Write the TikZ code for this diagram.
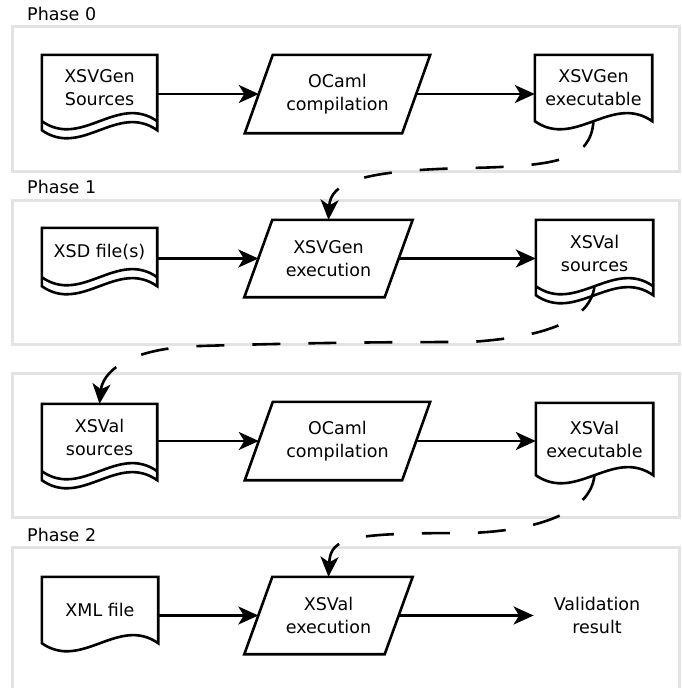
\documentclass[tikz,border=0pt]{standalone}
\usepackage{fontspec}
\setmainfont{DejaVu Sans}
\usetikzlibrary{arrows.meta,calc}
\tikzset{
  frame/.style={draw=black!11, line width=3pt},
  outline/.style={draw=black, line width=2.6pt},
  arr/.style={line width=2.6pt, -{Stealth[length=20pt,width=18pt,inset=5.5pt]}},
  dasharr/.style={arr, dash pattern=on 28pt off 28pt},
  doc/.style={rectangle, inner sep=0pt, align=center, font=\fontsize{17.5}{23}\selectfont},
  para/.style={doc},
  phase/.style={anchor=west, inner sep=0pt, font=\fontsize{17.5}{21}\selectfont},
}
\newcommand\docone[1]{\draw[outline] (#1.north west) -- (#1.south west) .. controls +(40,28) and +(-40,-28) .. (#1.south east) -- (#1.north east) -- cycle;}
\newcommand\doctwo[1]{\draw[outline] (#1.north west) -- ([yshift=-9pt]#1.south west) .. controls +(40,28) and +(-40,-28) .. ([yshift=-9pt]#1.south east) -- (#1.north east) -- cycle;
  \draw[outline] (#1.south west) .. controls +(40,28) and +(-40,-28) .. (#1.south east);}
\newcommand\parashape[1]{\draw[outline] ([xshift=-14pt]#1.south west) -- ([xshift=14pt]#1.north west) -- ([xshift=14pt]#1.north east) -- ([xshift=-14pt]#1.south east) -- cycle;}
\begin{document}
\begin{tikzpicture}[x=1pt,y=-1pt]
\useasboundingbox (0,0) rectangle (682,688);
\clip (0,0) rectangle (682,688);
% frames
\draw[frame] (12.5,26) rectangle (679,171);
\draw[frame] (12.5,200) rectangle (679,344);
\draw[frame] (12.5,373) rectangle (679,517);
\draw[frame] (12.5,547) rectangle (679,700);
\node[phase] (ph0) at (27,14) {Phase 0};
\node[phase] (ph1) at (27,187) {Phase 1};
\node[phase] (ph2) at (27,535) {Phase 2};
% phase 0
\node[doc, minimum width=115pt, minimum height=66pt] (src0) at (99.5,88) {XSVGen\\Sources};
\node[para, minimum width=157pt, minimum height=78pt] (para0) at (337.5,94) {OCaml\\compilation};
\node[doc, minimum width=117pt, minimum height=66pt] (exe0) at (593.5,88) {XSVGen\\executable};
\doctwo{src0}
\parashape{para0}
\docone{exe0}
% phase 1
\node[doc, minimum width=115pt, minimum height=49pt] (xsd) at (99.5,252.5) {XSD file(s)};
\node[para, minimum width=140pt, minimum height=77pt] (para1) at (328.5,258.5) {XSVGen\\execution};
\node[doc, minimum width=117pt, minimum height=66pt] (xsval1) at (594.5,253) {XSVal\\sources};
\doctwo{xsd}
\parashape{para1}
\doctwo{xsval1}
% phase 1b
\node[doc, minimum width=115pt, minimum height=67pt] (xsval2) at (99.5,437.5) {XSVal\\sources};
\node[para, minimum width=157pt, minimum height=78pt] (para2) at (337.5,441) {OCaml\\compilation};
\node[doc, minimum width=117pt, minimum height=72pt] (xsvalexe) at (594.5,439) {XSVal\\executable};
\doctwo{xsval2}
\parashape{para2}
\docone{xsvalexe}
% phase 2
\node[doc, minimum width=116pt, minimum height=66pt] (xml) at (100,610) {XML file};
\node[para, minimum width=140pt, minimum height=77pt] (para3) at (328.5,615.5) {XSVal\\execution};
\node[doc, inner xsep=20pt] (result) at (597,615) {Validation\\result};
\docone{xml}
\parashape{para3}
% solid arrows
\draw[arr] (src0.east |- para0.west) -- (para0.west);
\draw[arr] (para0.east) -- (exe0.west |- para0.east);
\draw[arr] (xsd.east |- para1.west) -- (para1.west);
\draw[arr] (para1.east) -- (xsval1.west |- para1.east);
\draw[arr] (xsval2.east |- para2.west) -- (para2.west);
\draw[arr] (para2.east) -- (xsvalexe.west |- para2.east);
\draw[arr] (xml.east |- para3.west) -- (para3.west);
\draw[arr] (para3.east) -- (result.west |- para3.east);
% dashed arrows
\coordinate (m1) at (470,168);
\draw[dasharr] (exe0.south) .. controls +(-3,38) and +(90,-2) .. (m1) .. controls +(-110,2) and +(2,-37) .. (para1.north);
\coordinate (m2) at (470,342);
\coordinate (m3) at (200,346);
\draw[dasharr] (xsval1.south) .. controls +(-5,40) and +(60,-4) .. (m2) .. controls +(-100,0) and +(100,-3) .. (m3) .. controls +(-75,2) and +(3,-30) .. (xsval2.north);
\coordinate (m4) at (470,533);
\draw[dasharr] (xsvalexe.south) .. controls +(-4,40) and +(60,-2) .. (m4) .. controls +(-120,0) and +(2,-40) .. (para3.north);
\end{tikzpicture}
\end{document}
